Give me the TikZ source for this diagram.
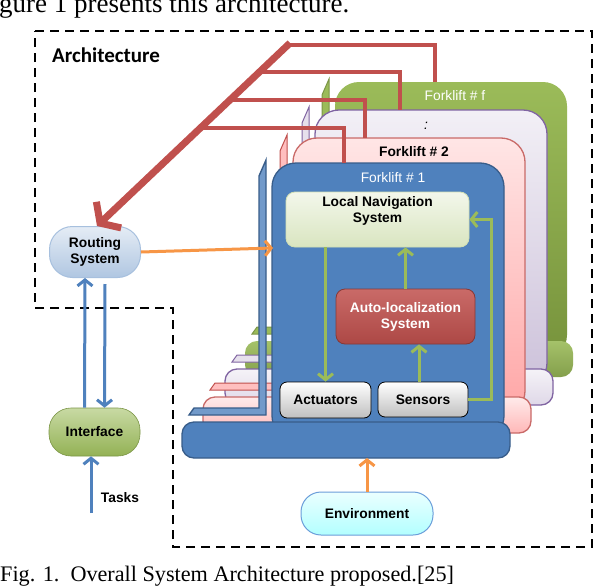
\documentclass[tikz,border=0pt]{standalone}
\usepackage{fontspec}
\setmainfont{Liberation Sans}
\newfontfamily\serifft{Liberation Serif}
\newfontfamily\archft{Carlito}
\usetikzlibrary{arrows.meta,calc}
\definecolor{fblue}{HTML}{4F81BD}
\definecolor{fbluedk}{HTML}{385D8A}
\definecolor{fred}{HTML}{C0504D}
\definecolor{forange}{HTML}{F79646}
\definecolor{fgreen}{HTML}{9BBB59}
\definecolor{fgreendk}{HTML}{77933C}
\definecolor{fpurple}{HTML}{8064A2}
\newcommand\fkLayer[4]{%
  \begin{scope}[shift={#1}]
    \path[#2] (272,163) rectangle (504,440);
    \path[#4] (259,176) -- (266,160) -- (266,415) -- (189,415) -- (194,408) -- (259,408) -- cycle;
    \path[#3] (182,422) rectangle (510,458);
  \end{scope}}
\begin{document}
\begin{tikzpicture}[x=1pt,y=-1pt,
  dashbox/.style={draw=black,line width=2.6pt,dash pattern=on 9pt off 6pt},
  cardshape/.style={rounded corners=24pt,line width=1.3pt},
  baseshape/.style={rounded corners=12pt,line width=1.3pt},
  forkshape/.style={line width=1pt},
  txt/.style={font=\fontsize{13.8}{16}\selectfont\bfseries,align=center,text=black,inner sep=0pt},
  lbl/.style={font=\fontsize{13.8}{16}\selectfont,inner sep=0pt},
  redline/.style={draw=fred,line width=3.5pt},
  bigred/.style={draw=fred,line width=7pt,-{Straight Barb[length=12pt,width=36pt]}},
  oarrow/.style={draw=forange,line width=3pt,-{Straight Barb[length=6pt,width=15pt]}},
  barrow/.style={draw=fblue,line width=3pt,-{Straight Barb[length=6pt,width=15pt]}},
  garrow/.style={draw=fgreen,line width=3pt,-{Straight Barb[length=6pt,width=15pt]}},
]
\useasboundingbox (0,0) rectangle (596,586);
\clip (0,0) rectangle (596,586);
\fill[white] (0,0) rectangle (596,586);

% texts of the page
\node[anchor=base west,inner sep=0pt,font=\serifft\fontsize{27}{30}\selectfont] (toptext) at (-1,13) {gure 1 presents this architecture.};
\node[anchor=base west,inner sep=0pt,font=\serifft\fontsize{22.2}{24}\selectfont] (caption) at (0,581) {Fig. 1.\ \ Overall System Architecture proposed.[25]};

% dashed architecture outline
\draw[dashbox] (35,31) -- (592,31) -- (592,547) -- (173,547) -- (173,308) -- (35,308) -- cycle;
\node[anchor=base west,inner sep=0pt,font=\archft\bfseries\fontsize{21}{24}\selectfont] (arch) at (52,63) {Architecture};

% forklift layers, back to front
\fkLayer{(63,-81)}{cardshape,top color=fgreen,bottom color=fgreendk}{baseshape,top color=fgreen!90!white,bottom color=fgreen!85!black}{forkshape,fill=fgreen,draw=fgreen!80!black}
\fkLayer{(43,-53)}{cardshape,draw=fpurple,top color=fpurple!10,bottom color=fpurple!40}{baseshape,draw=fpurple,top color=fpurple!8,bottom color=fpurple!25}{forkshape,fill=fpurple!20,draw=fpurple}
\fkLayer{(21,-25)}{cardshape,draw=fred!85!white,top color=red!10,bottom color=red!35}{baseshape,draw=fred!85!white,top color=red!8,bottom color=red!28}{forkshape,fill=red!25,draw=fred}
\fkLayer{(0,0)}{cardshape,fill=fblue,draw=fbluedk}{baseshape,fill=fblue,draw=fbluedk}{forkshape,fill=fblue!80!white,draw=fbluedk,line width=1.4pt}

% layer labels
\node[lbl,text=white] (flf) at (455,96) {Forklift \# f};
\node[lbl,text=black] (fldots) at (426,126) {\textit{:}};
\node[lbl,text=black,font=\fontsize{13.8}{16}\selectfont\bfseries] (fl2) at (414,152) {Forklift \# 2};
\node[lbl,text=white] (fl1) at (393,178) {Forklift \# 1};

% inner boxes
\node[txt,minimum width=183pt,minimum height=55pt,rounded corners=9pt,draw=fgreen!45,line width=0.8pt,
  top color=fgreen!12,bottom color=fgreen!38] (locnav) at (377.5,219.5) {Local Navigation\\System\\[5pt]};
\node[txt,text=white,minimum width=139pt,minimum height=55pt,rounded corners=9pt,draw=fred!70!black,line width=0.8pt,
  top color=fred!85!white,bottom color=fred!90!black] (auto) at (405.5,316.5) {Auto-localization\\System};
\node[txt,minimum width=91pt,minimum height=36pt,rounded corners=7pt,draw=black,line width=0.8pt,
  top color=white,bottom color=black!25] (act) at (325.5,400) {Actuators};
\node[txt,minimum width=90pt,minimum height=35pt,rounded corners=7pt,draw=black,line width=0.8pt,
  top color=white,bottom color=black!25] (sens) at (423,399.5) {Sensors};

% outer nodes
\node[txt,minimum width=91pt,minimum height=51pt,rounded corners=23pt,draw=fblue!50,line width=1pt,
  top color=fblue!15,bottom color=fblue!45] (routing) at (95,252) {Routing\\System};
\node[txt,minimum width=91pt,minimum height=48pt,rounded corners=22pt,draw=fgreen!80!black,line width=0.6pt,
  top color=fgreen!55,bottom color=fgreen!95!black] (iface) at (94.5,432) {Interface};
\node[txt,minimum width=132pt,minimum height=43pt,rounded corners=20pt,draw=cyan!55!blue!60,line width=1pt,
  top color=cyan!8,bottom color=cyan!30] (env) at (367,513.5) {Environment};
\node[txt] (tasks) at (120,498) {Tasks};

% coordinates for connector ends
\coordinate (rtop) at (290,43);
\coordinate (rtip) at (97,226);
\coordinate (dropf) at (435,82);
\coordinate (dropp) at (400,110);
\coordinate (drop2) at (365,138);
\coordinate (drop1) at (344,163);
\coordinate (cardin) at (273,248);
\coordinate (basebot) at (367,458);
\coordinate (tasksfrom) at (91,513);

% red connectors
\draw[redline] ($(rtop)!0.011!(rtip)$) -| (dropf);
\draw[redline] ($(rtop)!0.158!(rtip)$) -| (dropp);
\draw[redline] ($(rtop)!0.311!(rtip)$) -| (drop2);
\draw[redline] ($(rtop)!0.464!(rtip)$) -| (drop1);
\draw[bigred] (rtop) -- (rtip);

% orange connectors
\draw[oarrow] (routing.east) -- (cardin);
\draw[oarrow] (env.north) -- (basebot);

% blue connectors
\draw[barrow] ($(iface.north)+(-10,0)$) -- ($(routing.south)+(-10,0)$);
\draw[barrow] ($(routing.south)+(10,6)$) -- ($(iface.north)+(10,0)$);
\draw[barrow] (tasksfrom) -- (tasksfrom |- iface.south);

% green connectors
\draw[garrow] (locnav.south -| act.north) -- (act.north);
\draw[garrow] (auto.north) -- (auto.north |- locnav.south);
\draw[garrow] ($(sens.north)+(-4,0)$) -- ($(sens.north |- auto.south)+(-4,0)$);
\draw[garrow] (sens.east) -- ++(23,0) |- (locnav.east);
\end{tikzpicture}
\end{document}
